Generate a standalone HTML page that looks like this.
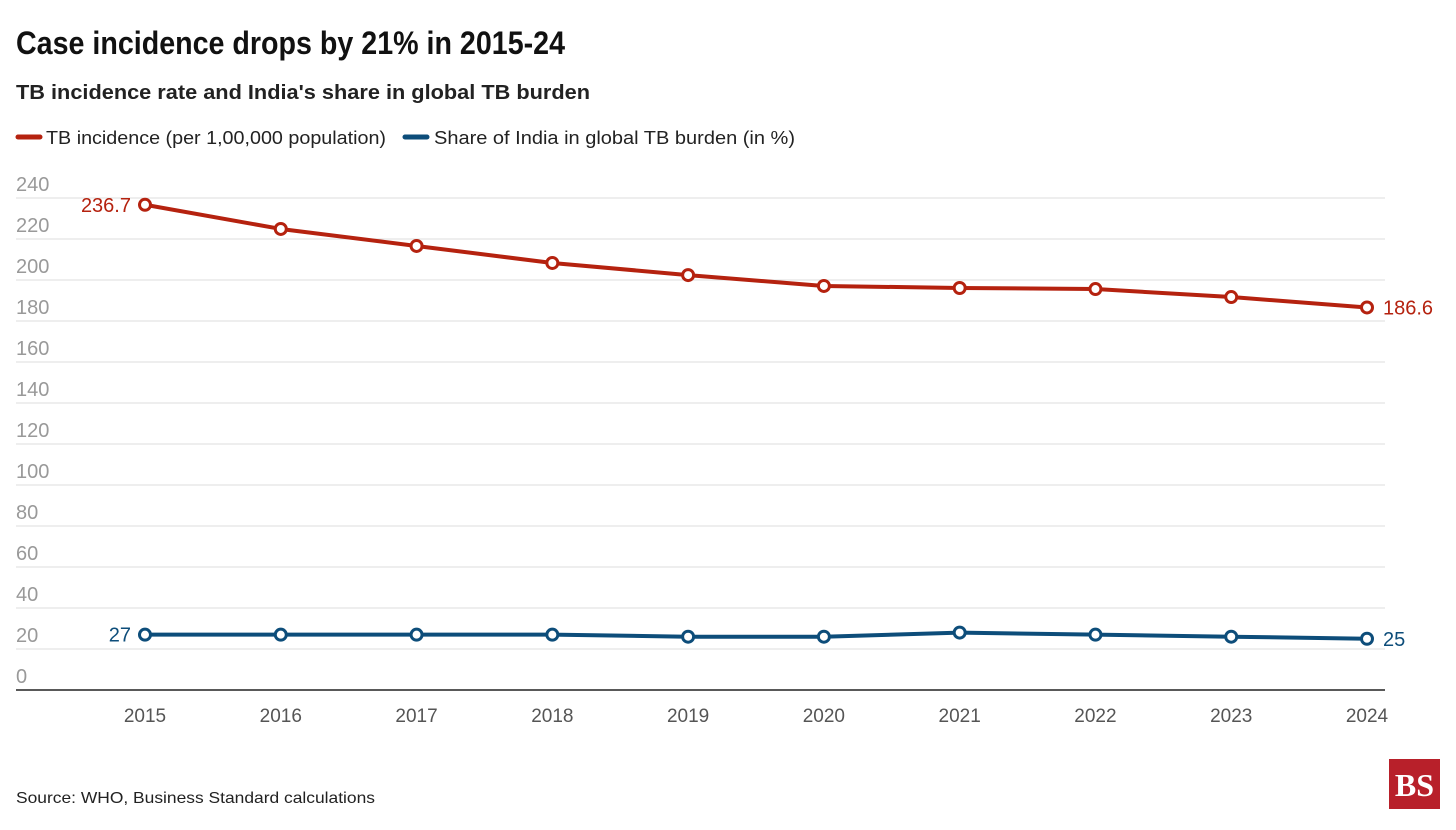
<!DOCTYPE html>
<html><head><meta charset="utf-8"><style>
body{margin:0;background:#fff;width:1456px;height:825px;overflow:hidden;font-family:"Liberation Sans","DejaVu Sans",sans-serif;}
</style></head><body>
<svg id="c" width="1456" height="825" xmlns="http://www.w3.org/2000/svg">
<text x="16" y="54" font-size="32" font-weight="bold" fill="#111" textLength="549" lengthAdjust="spacingAndGlyphs">Case incidence drops by 21% in 2015-24</text>
<text x="16" y="99" font-size="20" font-weight="bold" fill="#222" textLength="574" lengthAdjust="spacingAndGlyphs">TB incidence rate and India's share in global TB burden</text>
<g>
<line x1="18" y1="137" x2="40" y2="137" stroke="#b5220f" stroke-width="5" stroke-linecap="round"/>
<text x="46" y="144" font-size="18" fill="#222" textLength="340" lengthAdjust="spacingAndGlyphs">TB incidence (per 1,00,000 population)</text>
<line x1="405" y1="137" x2="427" y2="137" stroke="#0d4d7a" stroke-width="5" stroke-linecap="round"/>
<text x="434" y="144" font-size="18" fill="#222" textLength="361" lengthAdjust="spacingAndGlyphs">Share of India in global TB burden (in %)</text>
</g>
<g id="grid"></g><g id="marks"></g>
<text x="16" y="803" font-size="16" fill="#222" textLength="359" lengthAdjust="spacingAndGlyphs">Source: WHO, Business Standard calculations</text>
<g><rect x="1389" y="759" width="51" height="50" fill="#b8202a"/><text x="1414.5" y="796" font-size="32" fill="#fff" text-anchor="middle" font-family="Liberation Serif, serif" font-weight="bold">BS</text></g>
</svg>
<script>
const years=[2015,2016,2017,2018,2019,2020,2021,2022,2023,2024];
const incidence=[236.7,224.9,216.6,208.3,202.4,197.1,196.1,195.6,191.7,186.6];
const share=[27,27,27,27,26,26,28,27,26,25];
const yTicks=[0,20,40,60,80,100,120,140,160,180,200,220,240];
const NS="http://www.w3.org/2000/svg";
const x=i=>145+i*(1367-145)/(years.length-1);
const y=v=>690-v*2.05;
function mk(t,a,p){const e=document.createElementNS(NS,t);for(const k in a)e.setAttribute(k,a[k]);p.appendChild(e);return e;}
const g=document.getElementById('grid'),m=document.getElementById('marks');
yTicks.forEach(v=>{
 if(v>0){const l=mk('line',{x1:16,x2:1385,y1:y(v),y2:y(v),stroke:'#ddd','stroke-width':1},g);
 
 }
 const t=mk('text',{x:16,y:y(v)-7,'font-size':20,fill:'#999'},g);t.textContent=v;
 
 
});
const ax=mk('line',{x1:16,x2:1385,y1:690,y2:690,stroke:'#222','stroke-width':1.5},g);


years.forEach((yr,i)=>{const t=mk('text',{x:x(i),y:722,'font-size':19,fill:'#555','text-anchor':'middle'},g);t.textContent=yr;
 
 });
function series(vals,col,name){
 const p=mk('polyline',{points:vals.map((v,i)=>x(i)+','+y(v)).join(' '),fill:'none',stroke:col,'stroke-width':4,'stroke-linejoin':'round'},m);
 
 
 vals.forEach((v,i)=>{const c=mk('circle',{cx:x(i),cy:y(v),r:5.5,fill:'#fff',stroke:col,'stroke-width':3},m);
 
 });
 const n=vals.length-1;
 const a=mk('text',{x:x(0)-14,y:y(vals[0])+7,'font-size':20,fill:col,'text-anchor':'end'},m);a.textContent=vals[0];
 
 
 const b=mk('text',{x:x(n)+16,y:y(vals[n])+7,'font-size':20,fill:col},m);b.textContent=vals[n];
 
 
}
series(incidence,'#b5220f','incidence');
series(share,'#0d4d7a','share');
</script>
</body></html>
